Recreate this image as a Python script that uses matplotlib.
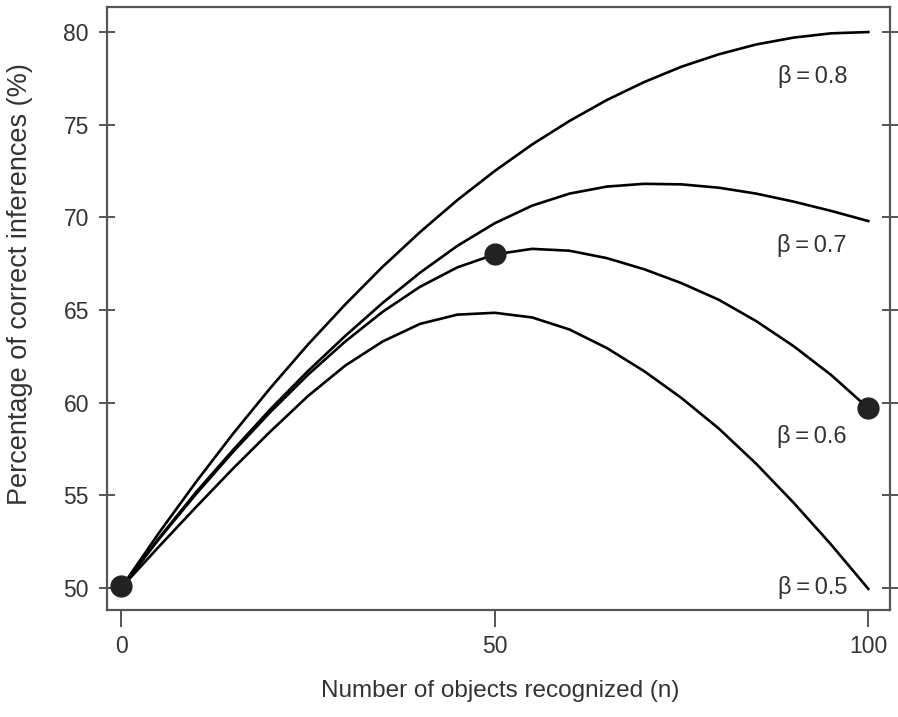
import numpy as np
import matplotlib
matplotlib.use("Agg")
import matplotlib.pyplot as plt

# values (percentage correct vs. n recognized)
n_values = [0, 5, 10, 15, 20, 25, 30, 35, 40, 45, 50,
            55, 60, 65, 70, 75, 80, 85, 90, 95, 100]
beta_08 = [50.0, 52.93, 55.70, 58.33, 60.80, 63.13, 65.30, 67.33, 69.20, 70.93, 72.50,
           73.93, 75.20, 76.33, 77.30, 78.13, 78.80, 79.33, 79.70, 79.93, 80.0]
beta_07 = [50.0, 52.65, 55.15, 57.45, 59.65, 61.70, 63.60, 65.38, 67.01, 68.46, 69.68,
           70.63, 71.28, 71.66, 71.81, 71.78, 71.60, 71.28, 70.85, 70.35, 69.80]
beta_06 = [50.0, 52.60, 55.05, 57.35, 59.50, 61.50, 63.30, 64.90, 66.25, 67.30, 68.00,
           68.30, 68.20, 67.80, 67.20, 66.45, 65.55, 64.40, 63.05, 61.50, 59.70]
beta_05 = [50.0, 52.20, 54.35, 56.45, 58.45, 60.35, 62.00, 63.30, 64.25, 64.75, 64.85,
           64.60, 63.95, 62.95, 61.70, 60.25, 58.60, 56.70, 54.60, 52.35, 49.95]
curve_labels = ["\u03b2\u2009=\u20090.8", "\u03b2\u2009=\u20090.7",
                "\u03b2\u2009=\u20090.6", "\u03b2\u2009=\u20090.5"]
label_y = [77.6, 68.5, 58.15, 50.0]
dot_n = [0, 50, 100]
dot_pct = [50.1, 68.0, 59.7]

x_ticks = [0, 50, 100]
y_ticks = [50, 55, 60, 65, 70, 75, 80]

plt.rcParams["font.family"] = ["Liberation Sans", "DejaVu Sans"]
grey = "#555555"
txt = "#333333"

fig = plt.figure(figsize=(8.98, 7.17), dpi=100)
ax = fig.add_axes([0.1192, 0.1492, 0.8719, 0.841])

for ys in [beta_08, beta_07, beta_06, beta_05]:
    ax.plot(n_values, ys, color="black", lw=1.9, solid_joinstyle="round")

ax.plot(dot_n, dot_pct, "o", color="#222222", ms=15, zorder=5)

for lab, yy in zip(curve_labels, label_y):
    ax.text(92.5, yy, lab, ha="center", va="center", fontsize=17, color=txt)

ax.set_xlim(-1.87, 102.9)
ax.set_ylim(48.81, 81.35)
ax.set_xticks(x_ticks)
ax.set_yticks(y_ticks)

for s in ax.spines.values():
    s.set_color(grey)
    s.set_linewidth(1.6)

ax.tick_params(axis="x", direction="out", length=12, width=1.4, color=grey,
               labelsize=16.5, labelcolor=txt, pad=6)
ax.tick_params(axis="y", direction="inout", length=12, width=1.4, color=grey,
               labelsize=16.5, labelcolor=txt, pad=7, right=True)

ax.set_xlabel("Number of objects recognized (n)", fontsize=17.5, color=txt)
ax.set_ylabel("Percentage of correct inferences (%)", fontsize=19.5, color=txt)
ax.xaxis.set_label_coords(0.502, -0.116)
ax.yaxis.set_label_coords(-0.095, 0.54)

fig.savefig("out.png", dpi=100)
